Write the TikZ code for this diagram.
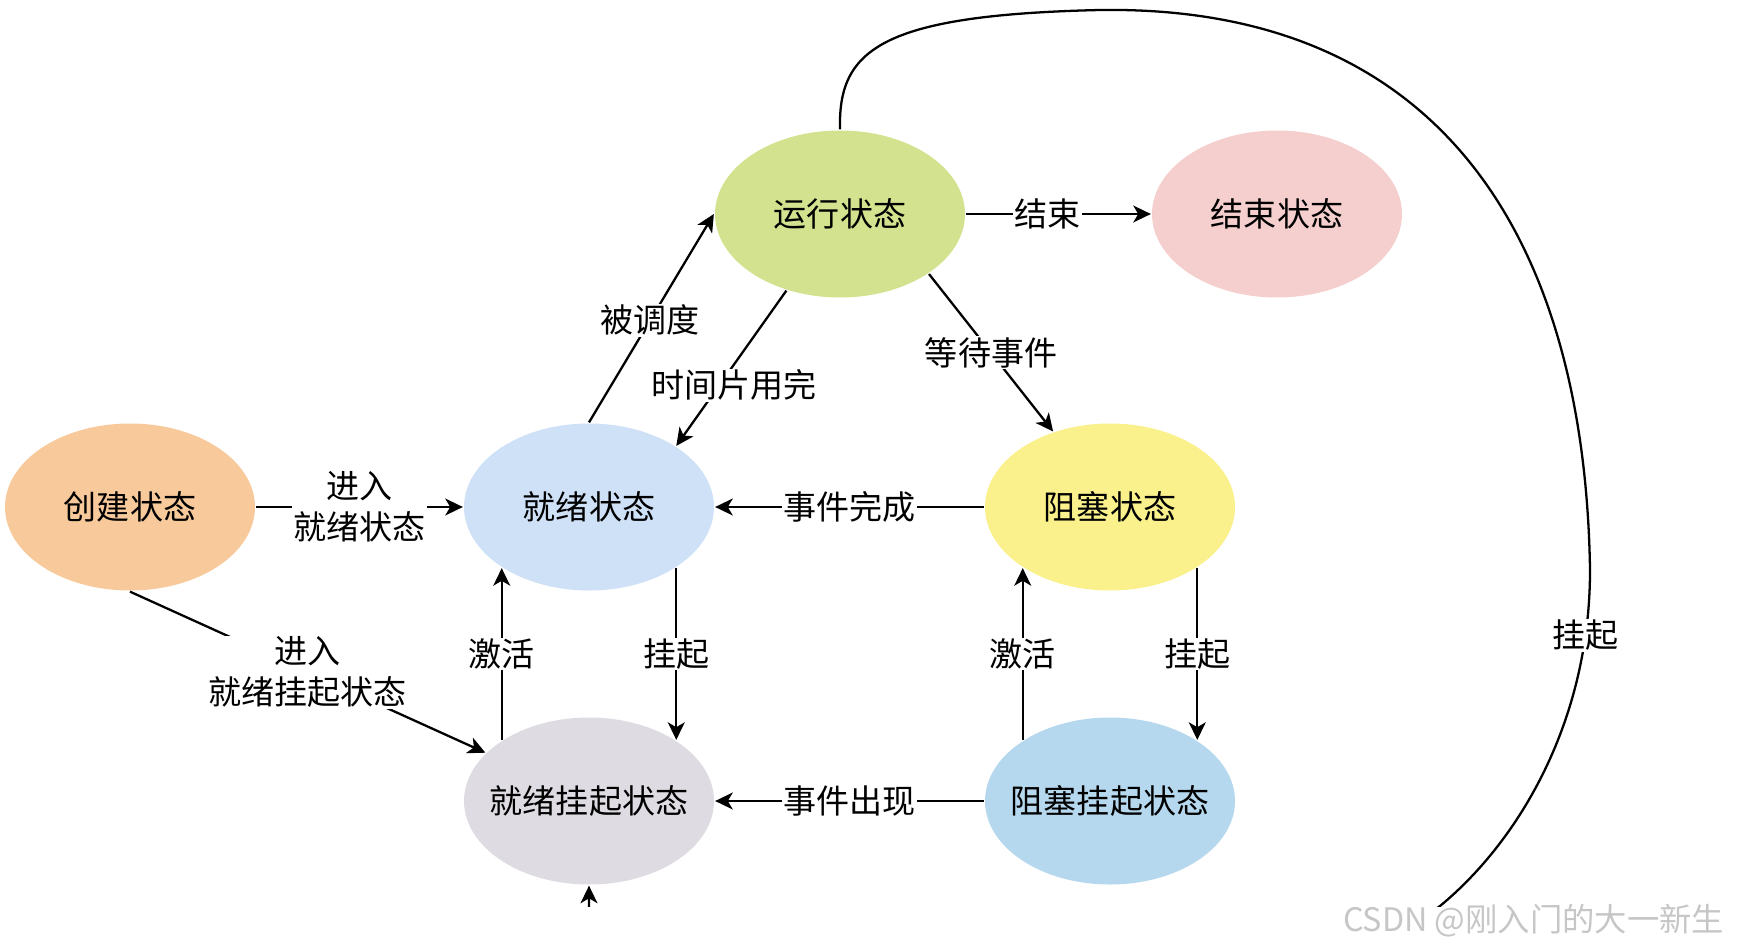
\documentclass[tikz,border=0pt]{standalone}
\usepackage{fontspec}
\setmainfont{Noto Sans CJK SC}
\usetikzlibrary{arrows.meta, positioning, shapes}
\definecolor{runGreen}{RGB}{211,226,143}
\definecolor{finishPink}{RGB}{244,207,205}
\definecolor{createOrange}{RGB}{247,201,155}
\definecolor{readyBlue}{RGB}{207,225,247}
\definecolor{blockYellow}{RGB}{250,240,140}
\definecolor{readySuspGray}{RGB}{222,219,226}
\definecolor{blockSuspBlue}{RGB}{182,216,238}
\tikzset{
        ->, % every connector is directed
        >={Stealth[length=5pt, width=4.8pt, inset=1.4pt]}, % bold arrow heads
        on grid, % distances between node centres
    }
\tikzset{
      proc state/.style={
		ellipse,
		fill=#1,
		inner xsep=-1.5mm,
		minimum width=2.5cm,
		minimum height=1.67cm,
	  },
  		edge label/.style={
    	fill=white,
    	inner sep=0.3pt,
    	align=center,
      }
  	}

\begin{document}
\begin{tikzpicture}[line width=0.65pt, font=\fontsize{9.4}{11.7}\selectfont]
    \useasboundingbox (0,0) rectangle (17.44,-9.50);
    \node [proc state=readyBlue] (ready) at (5.89,-5.07) {就绪状态};
    \node [proc state=createOrange, left=4.59cm of ready] (create) {创建状态};
    \node [proc state=blockYellow, right=5.21cm of ready] (blocked) {阻塞状态};
    \node [proc state=readySuspGray, below=2.94cm of ready] (readysusp) {就绪挂起状态};
    \node [proc state=blockSuspBlue, below=2.94cm of blocked] (blocksusp) {阻塞挂起状态};
    \node [proc state=runGreen, above right=2.93cm and 2.51cm of ready] (run) {运行状态};
    \node [proc state=finishPink, right=4.37cm of run] (finish) {结束状态};

    \draw (create) -- node [edge label] {进入\\就绪状态} (ready);
    \draw (ready.north) -- node [edge label, pos=0.49] {被调度} (run.west);
    \draw (run.235) -- node [edge label, pos=0.61, xshift=0.15cm] {时间片用完} (ready.35);
    \draw (run) -- node [edge label, pos=0.44] {结束} (finish);
    \draw (run.326) -- node [edge label] {等待事件} (blocked.127);
    \draw (blocked) -- node [edge label] {事件完成} (ready);
    \draw (readysusp.145) -- node [edge label] {激活} (ready.215);
    \draw (ready.325) -- node [edge label] {挂起} (readysusp.35);
    \draw (blocksusp.145) -- node [edge label] {激活} (blocked.215);
    \draw (blocked.325) -- node [edge label] {挂起} (blocksusp.35);
    \draw (blocksusp) -- node [edge label] {事件出现} (readysusp);
    \draw (create.south) -- node [edge label] {进入\\就绪挂起状态} (readysusp.155);

    % long way round from running to ready-suspended, cut off at the bottom
    \begin{scope}
      \clip (0,0) rectangle (17.44,-9.06);
      \draw (run.north) .. controls (8.38,-0.50) and (8.80,-0.15) .. (11.00,-0.10)
        .. controls (14.50,-0.05) and (15.85,-2.50) .. (15.90,-5.70)
        .. controls (15.90,-7.20) and (15.20,-8.40) .. (14.40,-9.06) node [edge label, pos=0.15] {挂起}
        .. controls (13.80,-9.60) and (5.89,-9.80) .. (5.89,-9.30)
        -- (readysusp.south);
    \end{scope}

    \node [anchor=east, text=gray!45, font=\fontsize{9.2}{11}\selectfont] (mark) at (17.37,-9.21) {CSDN @刚入门的大一新生};
\end{tikzpicture}
\end{document}
